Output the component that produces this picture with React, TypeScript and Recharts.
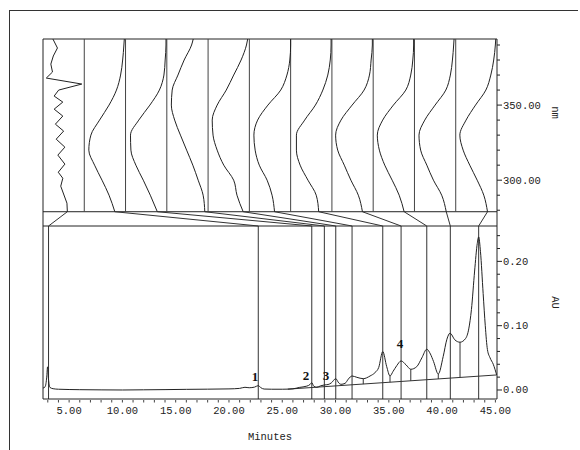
import {
  ScatterChart,
  Scatter,
  ComposedChart,
  Line,
  XAxis,
  YAxis,
  ReferenceLine,
  ReferenceDot,
} from 'recharts';

// axis ranges
const X_MIN = 2.55;
const X_MAX = 45.15;
const NM_TOP = 394;
const NM_PANEL_BOTTOM = 279;
const NM_BAND_BOTTOM = 269.5;
const AU_MIN = -0.014;
const AU_MAX = 0.255;

const X_TICKS = [3, 4, 5, 6, 7, 8, 9, 10, 11, 12, 13, 14, 15, 16, 17, 18, 19, 20, 21, 22, 23, 24, 25, 26, 27, 28, 29, 30, 31, 32, 33, 34, 35, 36, 37, 38, 39, 40, 41, 42, 43, 44, 45];
const NM_TICKS = [280, 290, 300, 310, 320, 330, 340, 350, 360, 370, 380, 390];
const AU_TICKS = [0, 0.02, 0.04, 0.06, 0.08, 0.1, 0.12, 0.14, 0.16, 0.18, 0.2, 0.22, 0.24];

// retention time of each spectrum, strip order left to right
const MARKER_TIMES = [3.07, 22.75, 27.77, 28.95, 30.02, 31.55, 34.43, 36.15, 38.56, 40.77, 43.43];

// strip 1: noise spectrum (nm, position in strip 0..1)
const NOISE_NM = [394, 388, 382.7, 377.3, 372, 368, 364, 360, 356, 352, 347.3, 342.7, 337.3, 332.7, 327.3, 322, 316.7, 310.7, 305.3, 301.3, 296, 284.7, 279];
const NOISE_V = [0.24, 0.35, 0.25, 0.19, 0.23, 0.08, 0.94, 0.38, 0.27, 0.48, 0.27, 0.48, 0.3, 0.5, 0.32, 0.53, 0.36, 0.53, 0.37, 0.48, 0.43, 0.58, 0.59];

// strips 2..11: peak spectra on a common wavelength grid
const SPEC_NM = [279, 290, 300, 310, 320, 330, 340, 350, 360, 370, 380, 390, 394];
const SPEC_2 = [0.74, 0.6, 0.43, 0.25, 0.11, 0.16, 0.37, 0.6, 0.78, 0.88, 0.93, 0.96, 0.97];
const SPEC_3 = [0.77, 0.6, 0.43, 0.25, 0.13, 0.12, 0.32, 0.59, 0.82, 0.93, 0.96, 0.98, 0.98];
const SPEC_4 = [0.92, 0.88, 0.76, 0.63, 0.48, 0.33, 0.19, 0.11, 0.13, 0.27, 0.42, 0.6, 0.64];
const SPEC_5 = [0.85, 0.7, 0.62, 0.38, 0.22, 0.12, 0.1, 0.22, 0.44, 0.62, 0.8, 0.93, 0.96];
const SPEC_6 = [0.61, 0.55, 0.43, 0.24, 0.14, 0.11, 0.2, 0.45, 0.76, 0.91, 0.98, 1.0, 1.0];
const SPEC_7 = [0.68, 0.62, 0.42, 0.23, 0.14, 0.14, 0.34, 0.6, 0.78, 0.9, 0.96, 0.98, 0.98];
const SPEC_8 = [0.74, 0.64, 0.46, 0.3, 0.14, 0.09, 0.22, 0.49, 0.78, 0.91, 0.95, 0.98, 0.98];
const SPEC_9 = [0.75, 0.63, 0.46, 0.28, 0.15, 0.1, 0.23, 0.49, 0.79, 0.91, 0.96, 0.98, 0.98];
const SPEC_10 = [0.77, 0.66, 0.46, 0.3, 0.15, 0.11, 0.25, 0.5, 0.76, 0.87, 0.92, 0.95, 0.96];
const SPEC_11 = [0.77, 0.68, 0.52, 0.34, 0.18, 0.1, 0.25, 0.48, 0.73, 0.85, 0.92, 0.96, 0.97];
const SPECTRA = [SPEC_2, SPEC_3, SPEC_4, SPEC_5, SPEC_6, SPEC_7, SPEC_8, SPEC_9, SPEC_10, SPEC_11];

// chromatogram
const TRACE_T = [2.55, 2.75, 2.9, 2.98, 3.06, 3.2, 3.5, 4, 6, 8, 10, 12, 14, 16, 18, 20, 21, 21.5, 21.9, 22.4, 22.75, 23, 23.3, 24, 25, 26, 26.6, 27.3, 27.6, 27.77, 27.95, 28.24, 28.6, 28.95, 29.3, 29.6, 30.02, 30.3, 30.5, 30.9, 31.2, 31.55, 32, 32.6, 33.24, 33.7, 34.05, 34.43, 34.8, 35.11, 35.4, 35.75, 36.15, 36.62, 37.06, 37.62, 38.1, 38.56, 38.9, 39.2, 39.64, 40.1, 40.45, 40.74, 41.2, 41.68, 42.2, 42.5, 42.75, 43.05, 43.3, 43.43, 43.6, 43.85, 44.05, 44.25, 44.5, 44.8, 45.12];
const TRACE_AU = [0.003, 0.005, 0.02, 0.036, 0.018, 0.004, 0.002, 0.0012, 0.0005, 0.0002, 0, 0.0003, 0.0006, 0.001, 0.0013, 0.0017, 0.0025, 0.0042, 0.0035, 0.0045, 0.0068, 0.0035, 0.0015, 0.0012, 0.0012, 0.0018, 0.004, 0.006, 0.0085, 0.0114, 0.006, 0.0042, 0.0065, 0.0078, 0.0085, 0.011, 0.0176, 0.011, 0.0088, 0.0104, 0.017, 0.0218, 0.0197, 0.0176, 0.0218, 0.027, 0.035, 0.0597, 0.0363, 0.0218, 0.029, 0.038, 0.0452, 0.039, 0.0322, 0.0363, 0.05, 0.0634, 0.056, 0.0441, 0.0249, 0.052, 0.079, 0.0883, 0.0779, 0.0743, 0.08, 0.095, 0.125, 0.185, 0.228, 0.238, 0.215, 0.15, 0.1, 0.063, 0.05, 0.04, 0.0234];

// integration baseline and drop lines
const BASE_T = [25.5, 45.12];
const BASE_AU = [0.0013, 0.0234];
const DROP_T = [32.6, 35.11, 37.06, 39.64, 41.68];
const DROP_LOW = [0.0091, 0.012, 0.0142, 0.0171, 0.0195];
const DROP_HIGH = [0.0176, 0.0218, 0.0322, 0.0249, 0.0743];

// peak numbers
const PEAK_NAMES = ['1', '2', '3', '4'];
const PEAK_T = [22.44, 27.23, 29.1, 36.05];
const PEAK_AU = [0.0218, 0.0233, 0.0233, 0.0723];

const STRIP_W = (X_MAX - X_MIN) / MARKER_TIMES.length;
const stripLeft = (i: number) => X_MIN + i * STRIP_W;

const noiseRows = NOISE_NM.map((nm, k) => ({ x: stripLeft(0) + NOISE_V[k] * STRIP_W, y: nm }));
const spectrumRows = SPECTRA.map((vals, s) =>
  SPEC_NM.map((nm, k) => ({ x: stripLeft(s + 1) + vals[k] * STRIP_W, y: nm }))
);
const bottomEnds = [noiseRows[noiseRows.length - 1].x, ...spectrumRows.map((r) => r[0].x)];

const traceRows = TRACE_T.map((t, i) => ({ t, au: TRACE_AU[i] }));
const baseRows = BASE_T.map((t, i) => ({ t, base: BASE_AU[i] }));

const INK = '#222';
const MONO = '"Liberation Mono", "DejaVu Sans Mono", monospace';
const TICK_TEXT = { fontFamily: MONO, fontSize: 10.5, fill: INK };

function RightTick(props: any) {
  const { x, y, payload, major, fmt } = props;
  const isMajor = major(payload.value);
  return (
    <g>
      <line x1={x} x2={x + (isMajor ? 5 : 3)} y1={y} y2={y} stroke={INK} />
      {isMajor && (
        <text x={x + 6} y={y} dy={3.5} {...TICK_TEXT}>
          {fmt(payload.value)}
        </text>
      )}
    </g>
  );
}

function BottomTick(props: any) {
  const { x, y, payload } = props;
  const isMajor = payload.value % 5 === 0;
  return (
    <g>
      <line x1={x} x2={x} y1={y + 1} y2={y + 3.5} stroke="#444" />
      {isMajor && (
        <text x={x} y={y + 15} textAnchor="middle" {...TICK_TEXT}>
          {payload.value.toFixed(2)}
        </text>
      )}
    </g>
  );
}

function SideTitle(props: any) {
  const { viewBox, title, shiftY } = props;
  if (!viewBox) return null;
  const cx = viewBox.x + 58;
  const cy = viewBox.y + viewBox.height / 2 + shiftY;
  return (
    <text
      x={cx}
      y={cy}
      transform={`rotate(90 ${cx} ${cy})`}
      textAnchor="middle"
      dominantBaseline="central"
      {...TICK_TEXT}
    >
      {title}
    </text>
  );
}

const noDot = () => <g />;

export default function App() {
  return (
    <div style={{ position: 'absolute', left: 0, top: 0, width: 580, height: 450, background: '#fff' }}>
      <div
        style={{
          position: 'absolute',
          left: 9,
          top: 10,
          width: 568,
          height: 445,
          borderTop: '1px solid #333',
          borderLeft: '1px solid #333',
        }}
      />

      {/* chromatogram */}
      <div style={{ position: 'absolute', left: 0, top: 0 }}>
        <ComposedChart width={580} height={450} data={traceRows} margin={{ top: 226, right: 0, bottom: 21, left: 43 }}>
          <XAxis
            type="number"
            dataKey="t"
            domain={[X_MIN, X_MAX]}
            allowDataOverflow
            ticks={X_TICKS}
            interval={0}
            tickSize={0}
            tickMargin={0}
            height={30}
            tick={(p: any) => <BottomTick {...p} />}
            axisLine={{ stroke: INK }}
            label={{ value: 'Minutes', position: 'bottom', offset: 4, ...TICK_TEXT }}
          />
          <YAxis
            type="number"
            orientation="right"
            width={83}
            domain={[AU_MIN, AU_MAX]}
            allowDataOverflow
            ticks={AU_TICKS}
            interval={0}
            tickSize={0}
            tickMargin={0}
            tick={(p: any) => (
              <RightTick {...p} major={(v: number) => Math.round(v * 100) % 10 === 0} fmt={(v: number) => v.toFixed(2)} />
            )}
            axisLine={{ stroke: INK }}
            label={<SideTitle title="AU" shiftY={-10} />}
          />
          <ReferenceLine x={X_MIN} stroke={INK} />
          {MARKER_TIMES.map((t) => (
            <ReferenceLine key={t} x={t} stroke="#333" />
          ))}
          {DROP_T.map((t, i) => (
            <ReferenceLine
              key={`d${t}`}
              segment={[
                { x: t, y: DROP_LOW[i] },
                { x: t, y: DROP_HIGH[i] },
              ]}
              stroke="#333"
            />
          ))}
          <Line
            data={baseRows}
            dataKey="base"
            type="linear"
            dot={false}
            stroke="#333"
            strokeWidth={1}
            isAnimationActive={false}
          />
          <Line dataKey="au" type="monotone" dot={false} stroke={INK} strokeWidth={1} isAnimationActive={false} />
          {PEAK_NAMES.map((name, i) => (
            <ReferenceDot
              key={name}
              x={PEAK_T[i]}
              y={PEAK_AU[i]}
              r={0}
              stroke="none"
              label={{
                value: name,
                position: 'center',
                fill: '#111',
                fontSize: 13,
                fontWeight: 'bold',
                fontFamily: '"Liberation Serif", serif',
              }}
            />
          ))}
        </ComposedChart>
      </div>

      {/* spectra panel and connector band */}
      <div style={{ position: 'absolute', left: 0, top: 0 }}>
        <ScatterChart width={580} height={240} margin={{ top: 39, right: 0, bottom: 14, left: 43 }}>
          <XAxis type="number" dataKey="x" domain={[X_MIN, X_MAX]} allowDataOverflow hide />
          <YAxis
            type="number"
            dataKey="y"
            orientation="right"
            width={83}
            domain={[NM_BAND_BOTTOM, NM_TOP]}
            allowDataOverflow
            ticks={NM_TICKS}
            interval={0}
            tickSize={0}
            tickMargin={0}
            tick={(p: any) => (
              <RightTick {...p} major={(v: number) => v % 50 === 0} fmt={(v: number) => v.toFixed(2)} />
            )}
            axisLine={{ stroke: INK }}
            label={<SideTitle title="nm" shiftY={-20} />}
          />
          <ReferenceLine y={NM_TOP} stroke={INK} />
          <ReferenceLine y={NM_PANEL_BOTTOM} stroke={INK} />
          <ReferenceLine y={NM_BAND_BOTTOM} stroke={INK} />
          <ReferenceLine x={X_MIN} stroke={INK} />
          {MARKER_TIMES.slice(1).map((_, i) => (
            <ReferenceLine
              key={`s${i}`}
              segment={[
                { x: stripLeft(i + 1), y: NM_PANEL_BOTTOM },
                { x: stripLeft(i + 1), y: NM_TOP },
              ]}
              stroke="#444"
            />
          ))}
          {MARKER_TIMES.map((t, i) => (
            <ReferenceLine
              key={`b${i}`}
              segment={[
                { x: bottomEnds[i], y: NM_PANEL_BOTTOM },
                { x: t, y: NM_BAND_BOTTOM },
              ]}
              stroke="#333"
            />
          ))}
          <Scatter
            data={noiseRows}
            fill={INK}
            line={{ stroke: INK, strokeWidth: 1 }}
            lineType="joint"
            lineJointType="linear"
            shape={noDot}
            isAnimationActive={false}
          />
          {spectrumRows.map((rows, s) => (
            <Scatter
              key={s}
              data={rows}
              fill={INK}
              line={{ stroke: INK, strokeWidth: 1 }}
              lineType="joint"
              lineJointType="monotoneY"
              shape={noDot}
              isAnimationActive={false}
            />
          ))}
        </ScatterChart>
      </div>
    </div>
  );
}
